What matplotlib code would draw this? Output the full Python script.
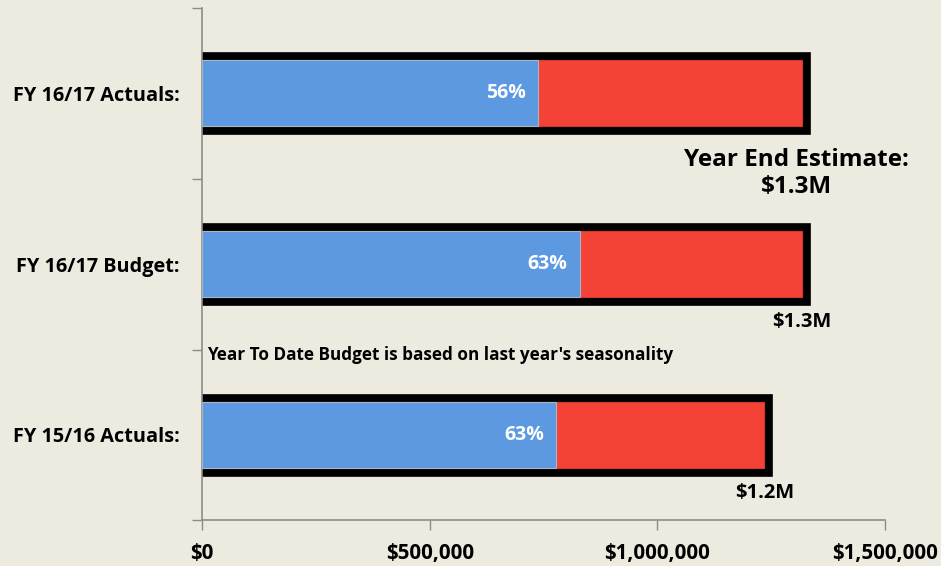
import matplotlib.pyplot as plt
from matplotlib.ticker import FuncFormatter

# Totales por fila (USD) y porcentaje acumulado a la fecha
categorias = ["FY 16/17 Actuals:", "FY 16/17 Budget:", "FY 15/16 Actuals:"]
totales = [1318000, 1318000, 1235000]
porcentajes = [0.56, 0.63, 0.63]
etiquetas_total = ["", "$1.3M", "$1.2M"]
estimado_fin = "Year End Estimate:\n$1.3M"
nota = "Year To Date Budget is based on last year's seasonality"

fondo = "#EDEAE0"
azul = "#5C99E0"
rojo = "#F44336"
gris = "#8C8C8C"

plt.rcParams["font.family"] = ["Open Sans", "DejaVu Sans"]
plt.rcParams["font.weight"] = "bold"

fig = plt.figure(figsize=(9.41, 5.66), dpi=100, facecolor=fondo)
ax = fig.add_axes([0.2147, 0.0804, 0.7258, 0.9063], facecolor=fondo)

pos = list(range(len(categorias)))
alto = 0.39

for i in pos:
    total = totales[i]
    hecho = total * porcentajes[i]
    # marco negro alrededor de la barra
    ax.barh(i, total, height=alto, color="black", edgecolor="black",
            linewidth=12, zorder=1)
    ax.barh(i, total, height=alto, color=rojo, edgecolor="#D8382C",
            linewidth=0.8, zorder=2)
    ax.barh(i, hecho, height=alto, color=azul, edgecolor="#A8B6C8",
            linewidth=0.8, zorder=3)
    ax.annotate(f"{porcentajes[i] * 100:.0f}%", xy=(hecho, i),
                xytext=(-9, 0), textcoords="offset points",
                ha="right", va="center", color="white",
                fontsize=14, fontweight="bold", zorder=4)
    if etiquetas_total[i]:
        ax.text(total, i + 0.34, etiquetas_total[i], ha="center",
                va="center", fontsize=14.5, fontweight="bold")

ax.text(1.305e6, 0.47, estimado_fin, ha="center", va="center",
        fontsize=17.5, fontweight="bold", linespacing=1.15)
ax.text(0.012e6, 1.53, nota, ha="left", va="center", fontsize=12.3,
        fontweight="bold")

ax.set_xlim(0, 1.5e6)
ax.set_ylim(2.5, -0.5)
ax.set_xticks([0, 500000, 1000000, 1500000])
ax.xaxis.set_major_formatter(FuncFormatter(lambda v, p: f"${v:,.0f}"))
ax.set_yticks(pos)
ax.set_yticklabels(categorias)
ax.set_yticks([-0.5, 0.5, 1.5, 2.5], minor=True)

ax.tick_params(axis="y", which="major", length=0, pad=16, labelsize=14.3)
ax.tick_params(axis="y", which="minor", length=7, color=gris, width=1)
ax.tick_params(axis="x", length=7, color=gris, width=1, pad=9,
               labelsize=14.8)

for lado in ["top", "right"]:
    ax.spines[lado].set_visible(False)
for lado in ["left", "bottom"]:
    ax.spines[lado].set_color(gris)
    ax.spines[lado].set_linewidth(1.2)

fig.savefig("out.png", dpi=100, facecolor=fondo)
